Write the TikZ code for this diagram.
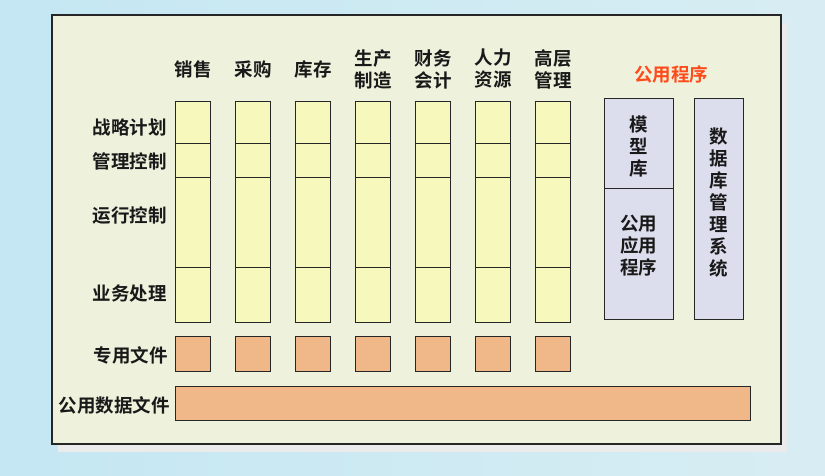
\documentclass[tikz,border=0pt]{standalone}
\usepackage{fontspec}
\setmainfont{Noto Sans CJK SC}[BoldFont={Noto Sans CJK SC Bold}]
\usepackage{xcolor}
\usetikzlibrary{positioning}

\definecolor{skyblue}{HTML}{C4E7F3}
\definecolor{skypale}{HTML}{D8EDF3}
\definecolor{panelbg}{HTML}{EEF2DC}
\definecolor{cellfill}{HTML}{F6F8BC}
\definecolor{filefill}{HTML}{F0B888}
\definecolor{progfill}{HTML}{DCDEEE}
\definecolor{progred}{HTML}{FF4A1A}

\begin{document}
\begin{tikzpicture}[x=1pt, y=-1pt,
  every node/.style={font=\fontsize{18.5}{22}\selectfont\bfseries, text=black!90},
  box/.style={draw=black!85, line width=0.9pt, inner sep=0pt, outer sep=0pt, anchor=north west},
  cell/.style={box, fill=cellfill, minimum width=35pt},
  filebox/.style={box, fill=filefill},
  progbox/.style={box, fill=progfill, align=center},
  rowlabel/.style={anchor=east, inner sep=0pt}]
\useasboundingbox (0,0) rectangle (825,475);
\shade[left color=skyblue, right color=skypale] (0,0) rectangle (825,475);
\fill[black!8] (58,23) rectangle (787,452);
\draw[draw=black!85, line width=1.2pt, fill=panelbg] (52,15) rectangle (781,444);

% application columns
\foreach \col/\head [count=\i from 0] in {xs/销售, cg/采购, kc/库存, sc/生产\\制造, cw/财务\\会计, rl/人力\\资源, gc/高层\\管理} {
  \node[cell, minimum height=42pt] (\col-1) at (175+60*\i,101) {};
  \node[cell, minimum height=34pt, below=0pt of \col-1] (\col-2) {};
  \node[cell, minimum height=90pt, below=0pt of \col-2] (\col-3) {};
  \node[cell, minimum height=55pt, below=0pt of \col-3] (\col-4) {};
  \node[filebox, minimum width=35pt, minimum height=35pt, below=14pt of \col-4] (\col-f) {};
  \node[align=center, inner sep=0pt] (\col-h) at (193+60*\i,69) {\head};
}

% row labels
\node[rowlabel] (zl) at (167,127) {战略计划};
\node[rowlabel] (gl) at (167,161) {管理控制};
\node[rowlabel] (yx) at (167,216) {运行控制};
\node[rowlabel] (yw) at (167,293) {业务处理};
\node[rowlabel] (zy) at (168,355) {专用文件};
\node[rowlabel] (gy) at (170,405) {公用数据文件};

% public data file
\node[filebox, minimum width=575pt, minimum height=34pt] (data) at (175,386) {};

% public programs
\node[text=progred, inner sep=0pt] (prog) at (671,74) {公用程序};
\node[progbox, minimum width=69pt, minimum height=90pt] (model) at (604,98) {};
\node[progbox, minimum width=69pt, minimum height=131pt, below=0pt of model] (app) {};
\node[progbox, minimum width=49pt, minimum height=221pt] (dbms) at (694,98) {};
\node[align=center, inner sep=0pt] at ([yshift=-3pt]model.center) {模\\型\\库};
\node[align=center, inner sep=0pt] at ([yshift=8pt]app.center) {公用\\应用\\程序};
\node[align=center, inner sep=0pt] at ([yshift=6pt]dbms.center) {数\\据\\库\\管\\理\\系\\统};
\end{tikzpicture}
\end{document}
